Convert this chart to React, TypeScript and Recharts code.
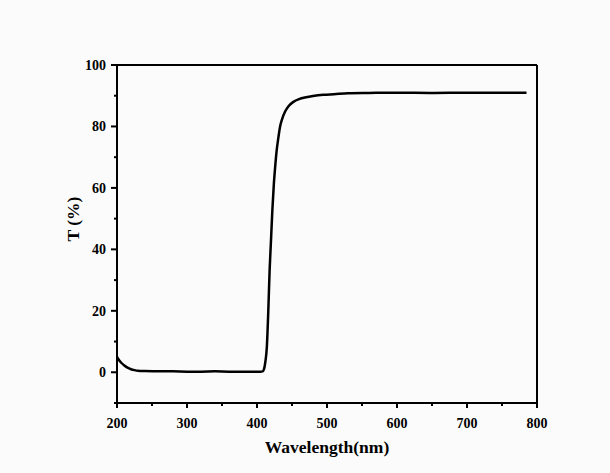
import { LineChart, Line, XAxis, YAxis, ReferenceLine } from 'recharts';

const wavelength = [
  200, 203, 206, 210, 215, 220, 225, 230, 240, 260, 280, 300, 320, 340, 360, 380, 400, 405, 408,
  410, 412, 414, 416, 418, 420, 422, 424, 426, 428, 430, 433, 436, 440, 445, 452, 460, 470, 480,
  495, 510, 530, 560, 600, 650, 700, 750, 785,
];
const transmittance = [
  5.0, 3.9, 3.1, 2.3, 1.5, 1.0, 0.7, 0.5, 0.4, 0.3, 0.3, 0.2, 0.2, 0.3, 0.2, 0.2, 0.2, 0.2, 0.3,
  1.0, 3.5, 8, 19, 33, 43, 53, 61, 67, 72, 75.5, 80, 82.5, 84.8, 86.6, 88, 88.9, 89.5, 89.9,
  90.3, 90.5, 90.8, 90.9, 91.0, 90.9, 91.0, 91.0, 91.0,
];
const xTicks = [200, 250, 300, 350, 400, 450, 500, 550, 600, 650, 700, 750, 800];
const yTicks = [-10, 0, 10, 20, 30, 40, 50, 60, 70, 80, 90, 100];

const data = wavelength.map((w, i) => ({ w, t: transmittance[i] }));

const font = '"Liberation Serif", "Times New Roman", serif';

function XTick(props: any) {
  const { x, y, payload } = props;
  const major = payload.value % 100 === 0;
  return (
    <g>
      <line x1={x} y1={y} x2={x} y2={y + (major ? 5 : 3)} stroke="#000" strokeWidth={2} />
      {major && (
        <text x={x} y={y + 25} textAnchor="middle" fontFamily={font} fontWeight="bold" fontSize={14} fill="#000">
          {payload.value}
        </text>
      )}
    </g>
  );
}

function YTick(props: any) {
  const { x, y, payload } = props;
  const major = payload.value % 20 === 0;
  return (
    <g>
      <line x1={x} y1={y} x2={x - (major ? 6 : 3)} y2={y} stroke="#000" strokeWidth={2} />
      {major && (
        <text x={x - 11} y={y + 5} textAnchor="end" fontFamily={font} fontWeight="bold" fontSize={14} fill="#000">
          {payload.value}
        </text>
      )}
    </g>
  );
}

export default function App() {
  return (
    <div style={{ position: 'absolute', left: 0, top: 0, width: 610, height: 473, background: '#fbfbfb' }}>
      <LineChart width={610} height={473} data={data} margin={{ top: 65, right: 73, bottom: 0, left: 0 }}>
        <XAxis
          dataKey="w"
          type="number"
          domain={[200, 800]}
          ticks={xTicks}
          interval={0}
          tickSize={0}
          tickMargin={0}
          tickLine={false}
          height={70}
          axisLine={{ stroke: '#000', strokeWidth: 2 }}
          tick={<XTick />}
          label={{
            content: () => (
              <text x={327} y={453} textAnchor="middle" fontFamily={font} fontWeight="bold" fontSize={17.5} fill="#000">
                Wavelength(nm)
              </text>
            ),
          }}
        />
        <YAxis
          type="number"
          domain={[-10, 100]}
          ticks={yTicks}
          interval={0}
          width={117}
          tickSize={0}
          tickMargin={0}
          tickLine={false}
          axisLine={{ stroke: '#000', strokeWidth: 2 }}
          tick={<YTick />}
          label={{
            content: () => (
              <text
                x={79}
                y={219}
                textAnchor="middle"
                transform="rotate(-90 79 219)"
                fontFamily={font}
                fontWeight="bold"
                fontSize={17.5}
                fill="#000"
              >
                T (%)
              </text>
            ),
          }}
        />
        <ReferenceLine y={100} stroke="#000" strokeWidth={2} />
        <ReferenceLine x={800} stroke="#000" strokeWidth={2} />
        <Line
          dataKey="t"
          type="monotone"
          stroke="#000"
          strokeWidth={2.5}
          dot={false}
          isAnimationActive={false}
        />
      </LineChart>
    </div>
  );
}
